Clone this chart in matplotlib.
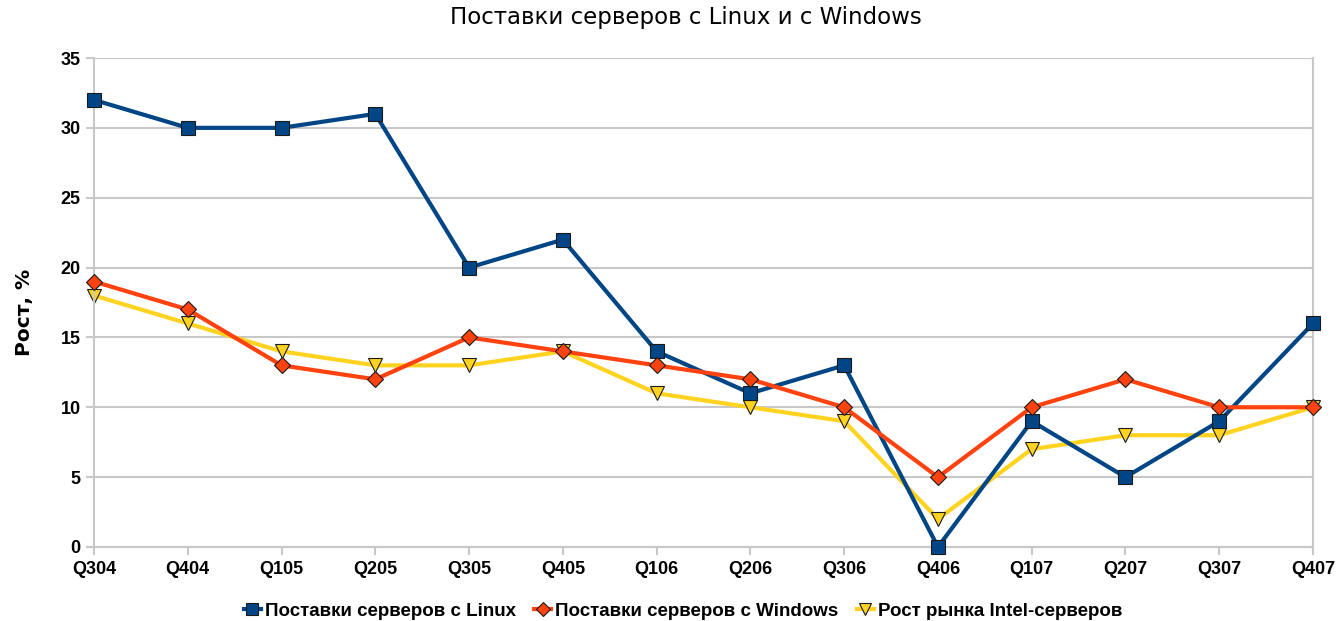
import numpy as np
import matplotlib
matplotlib.use("Agg")
import matplotlib.pyplot as plt

plt.rcParams['font.family'] = ['Liberation Sans', 'DejaVu Sans']

quarters = ["Q304", "Q404", "Q105", "Q205", "Q305", "Q405", "Q106",
            "Q206", "Q306", "Q406", "Q107", "Q207", "Q307", "Q407"]
linux = [32, 30, 30, 31, 20, 22, 14, 11, 13, 0, 9, 5, 9, 16]
windows = [19, 17, 13, 12, 15, 14, 13, 12, 10, 5, 10, 12, 10, 10]
intel = [18, 16, 14, 13, 13, 14, 11, 10, 9, 2, 7, 8, 8, 10]

fig = plt.figure(figsize=(13.39, 6.21), dpi=100)
ax = fig.add_axes([0.0702, 0.1192, 0.9104, 0.7874])

x = np.arange(len(quarters))
ax.plot(x, linux, color='#004586', lw=3, marker='s', ms=10, clip_on=False,
        mec='#1a1a1a', mew=0.8, label='Поставки серверов с Linux', zorder=3)
ax.plot(x, windows, color='#ff420e', lw=3, marker='D', ms=8, clip_on=False,
        mec='#1a1a1a', mew=0.8, label='Поставки серверов с Windows', zorder=4)
ax.plot(x, intel, color='#ffd320', lw=3, marker='v', ms=10, clip_on=False,
        mec='#1a1a1a', mew=0.8, label='Рост рынка Intel-серверов', zorder=2)

ax.set_xlim(0, len(quarters) - 1)
ax.set_ylim(0, 35)
ax.set_yticks(range(0, 36, 5))
ax.set_xticks(x)
ax.set_xticklabels(quarters)
ax.grid(axis='y', color='#c8c8c8', lw=1.5)
ax.set_axisbelow(True)
for s in ['left', 'bottom', 'right']:
    ax.spines[s].set_color('#c8c8c8')
    ax.spines[s].set_linewidth(1.5)
ax.spines['top'].set_visible(False)
ax.tick_params(colors='#c8c8c8', width=1.5, length=6, labelcolor='black',
               labelsize=13)
ax.tick_params(axis='x', pad=4)
for lbl in ax.get_xticklabels() + ax.get_yticklabels():
    lbl.set_fontweight('bold')

ax.set_ylabel('Рост, %', fontsize=14.5, fontweight='bold',
              family='DejaVu Sans')
ax.yaxis.set_label_coords(-0.049, 0.48)
fig.suptitle('Поставки серверов с Linux и с Windows', fontsize=16.5,
             x=0.512, y=0.99, family='DejaVu Sans')

leg = fig.legend(loc='lower center', bbox_to_anchor=(0.51, -0.025), ncol=3,
                 frameon=False, handlelength=0.9, handletextpad=0.2,
                 columnspacing=1.0, markerscale=0.85,
                 prop={'size': 13.5, 'weight': 'bold'})

fig.savefig('out.png', dpi=100)
